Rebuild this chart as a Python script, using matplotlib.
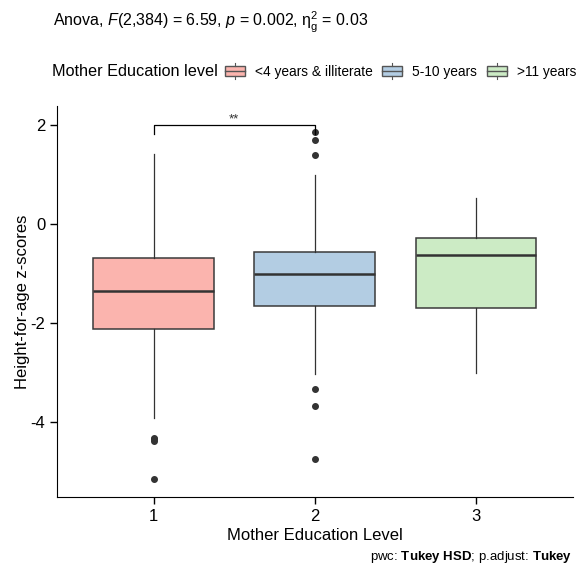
import matplotlib
matplotlib.use("Agg")
import matplotlib.pyplot as plt
from matplotlib.patches import Patch, Rectangle
from matplotlib.lines import Line2D
from matplotlib.legend_handler import HandlerBase

plt.rcParams['font.family'] = ['Liberation Sans', 'DejaVu Sans']
plt.rcParams['mathtext.fontset'] = 'custom'
plt.rcParams['mathtext.rm'] = 'Liberation Sans'
plt.rcParams['mathtext.it'] = 'Liberation Sans:italic'
plt.rcParams['mathtext.bf'] = 'Liberation Sans:bold'

# data
groups = [1, 2, 3]
group_names = ['<4 years & illiterate', '5-10 years', '>11 years']
colors = ['#FBB4AE', '#B3CDE3', '#CCEBC5']
q1 = [-2.13, -1.67, -1.71]
med = [-1.36, -1.02, -0.63]
q3 = [-0.70, -0.57, -0.28]
whislo = [-3.93, -3.04, -3.02]
whishi = [1.41, 0.98, 0.53]
fliers = [[-4.32, -4.36, -4.39, -5.16],
          [1.86, 1.70, 1.39, -3.33, -3.68, -4.76],
          []]


class BoxKey(HandlerBase):
    # ggplot style key: box with median line and whisker stubs
    def create_artists(self, legend, orig, xd, yd, width, height, fontsize, trans):
        fc = orig.get_facecolor()
        x0, y0 = -xd, -yd
        lo, hi = y0 + height * 0.2, y0 + height * 0.8
        rect = Rectangle((x0, lo), width, hi - lo,
                         facecolor=fc, edgecolor='#555555', linewidth=1,
                         transform=trans)
        mid = Line2D([x0, x0 + width], [y0 + height * 0.5] * 2,
                     color='#555555', linewidth=1, transform=trans)
        top = Line2D([x0 + width / 2] * 2, [hi, y0 + height],
                     color='#555555', linewidth=0.8, transform=trans)
        bot = Line2D([x0 + width / 2] * 2, [y0, lo],
                     color='#555555', linewidth=0.8, transform=trans)
        return [rect, mid, top, bot]


stats = []
for i in range(3):
    stats.append(dict(q1=q1[i], med=med[i], q3=q3[i], whislo=whislo[i],
                      whishi=whishi[i], fliers=fliers[i], label=str(groups[i])))

fig = plt.figure(figsize=(5.84, 5.64), dpi=100)
ax = fig.add_axes([0.0976, 0.119, 0.883, 0.693])

bp = ax.bxp(stats, positions=groups, widths=0.75, patch_artist=True,
            showcaps=False,
            boxprops=dict(edgecolor='#3a3a3a', linewidth=1.1),
            medianprops=dict(color='#333333', linewidth=1.8),
            whiskerprops=dict(color='#333333', linewidth=0.9),
            flierprops=dict(marker='o', markerfacecolor='#333333',
                            markeredgecolor='#333333', markersize=4))
for patch, c in zip(bp['boxes'], colors):
    patch.set_facecolor(c)

# significance bracket
ax.plot([1, 1, 2, 2], [1.82, 2.0, 2.0, 1.82], color='black', linewidth=0.9)
ax.text(1.5, 1.99, '**', ha='center', va='bottom', fontsize=9.5, color='#333333')

ax.set_xlim(0.4, 3.6)
ax.set_ylim(-5.52, 2.38)
ax.set_yticks([-4, -2, 0, 2])
ax.set_yticklabels(['-4', '-2', '0', '2'])
ax.set_xticks(groups)
ax.set_xticklabels([str(g) for g in groups])
ax.tick_params(labelsize=12, length=5, width=1, colors='black')
ax.spines['top'].set_visible(False)
ax.spines['right'].set_visible(False)
ax.set_xlabel('Mother Education Level', fontsize=12, labelpad=3)
ax.set_ylabel('Height-for-age z-scores', fontsize=12, labelpad=0.5)

fig.text(53 / 584, 1 - 22 / 564,
         r'Anova, $\mathit{F}$(2,384) = 6.59, $\mathit{p}$ = 0.002, η$^{2}_{\mathrm{g}}$ = 0.03',
         fontsize=11.5, va='center', ha='left')

fig.text(52 / 584, 1 - 71 / 564, 'Mother Education level', fontsize=11.7,
         va='center', ha='left')
handles = [Patch(facecolor=c, edgecolor='#555555', linewidth=1) for c in colors]
fig.legend(handles, group_names, loc='center left',
           bbox_to_anchor=(225 / 584, 1 - 71 / 564), ncol=3, frameon=False,
           fontsize=9.9, handlelength=1.45, handleheight=1.45,
           handletextpad=0.72, columnspacing=0.72, borderpad=0, borderaxespad=0,
           handler_map={Patch: BoxKey()})

fig.text(572 / 584, 1 - 560 / 564,
         r'pwc: $\mathbf{Tukey\ HSD}$; p.adjust: $\mathbf{Tukey}$',
         fontsize=9.5, ha='right', va='baseline')

fig.savefig('out.png', dpi=100)
